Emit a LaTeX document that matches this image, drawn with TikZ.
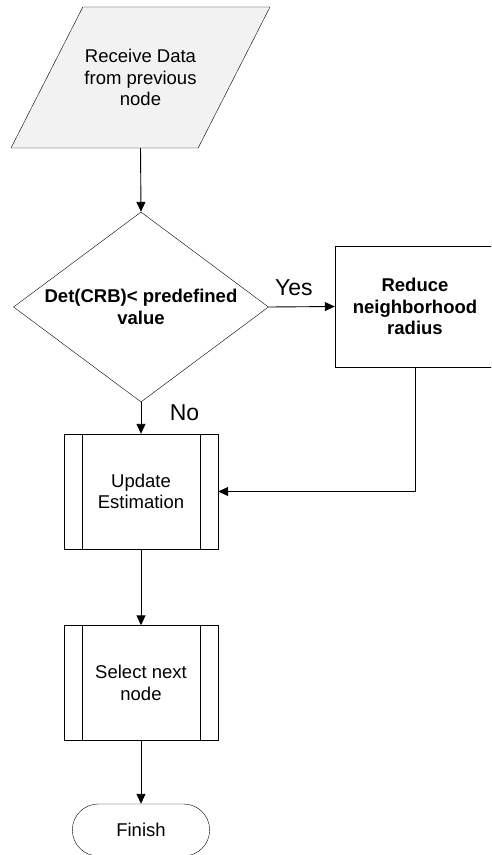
\documentclass[tikz,border=0pt]{standalone}
\usepackage{fontspec}
\setmainfont{Liberation Sans}
\usepackage{xcolor}
\usetikzlibrary{shapes,arrows.meta,positioning}
\definecolor{datagray}{RGB}{242,242,242}

\begin{document}
\begin{tikzpicture}[x=1pt,y=-1pt,
    every node/.style={font=\fontsize{18.5pt}{21.7pt}\selectfont, align=center},
    datashape/.style={trapezium, trapezium left angle=63, trapezium right angle=117,
        trapezium stretches body, draw, fill=datagray, minimum width=259pt, inner xsep=0pt, inner ysep=42pt},
    decision/.style={diamond, draw, minimum width=255pt, minimum height=190pt, inner sep=0pt},
    procbox/.style={rectangle, draw, fill=white, minimum width=160pt, minimum height=121pt},
    subproc/.style={rectangle, draw, minimum width=154pt, minimum height=115pt,
        path picture={
            \draw ([xshift=18pt]path picture bounding box.north west) -- ([xshift=18pt]path picture bounding box.south west);
            \draw ([xshift=-18pt]path picture bounding box.north east) -- ([xshift=-18pt]path picture bounding box.south east);
        }},
    terminal/.style={rounded rectangle, draw, minimum width=144pt, minimum height=52pt},
    branchlabel/.style={font=\fontsize{23pt}{27pt}\selectfont},
    flowarrow/.style={draw, line width=0.9pt, -{Triangle[length=10pt,width=9pt]}}
]
    \clip (0,0) rectangle (491,855);

    % shapes
    \node[datashape] (recv) at (140.5,77.5) {Receive Data\\from previous\\node};
    \node[decision, label={[font=\fontsize{18.5pt}{21.7pt}\selectfont\bfseries, align=center]center:Det(CRB)< predefined\\value}] (check) at (141,307) {};
    \node[procbox] (reduce) at (415,306.5) {\textbf{Reduce}\\\textbf{neighborhood}\\\textbf{radius}};
    \node[subproc] (update) at (141,491.5) {Update\\Estimation};
    \node[subproc] (select) at (141,683) {Select next\\node};
    \node[terminal] (finish) at (141,830) {Finish};

    % connectors
    \draw[flowarrow] (recv.south) -- (check.north);
    \draw[flowarrow] (check.east) -- node[branchlabel, pos=0.38, above=7pt] (yes) {Yes} (reduce.west);
    \draw[flowarrow] (check.south) -- node[branchlabel, pos=0.33, right=25pt] (no) {No} (update.north);
    \draw[flowarrow] (reduce.south) |- (update.east);
    \draw[flowarrow] (update.south) -- (select.north);
    \draw[flowarrow] (select.south) -- (finish.north);
\end{tikzpicture}
\end{document}
